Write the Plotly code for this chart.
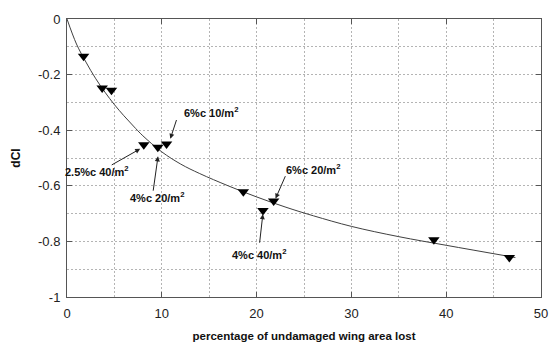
import plotly.graph_objects as go

# Measured loss in lift coefficient for each damage case
pct_area_lost = [1.75, 3.71, 4.69, 8.1, 9.58, 10.5, 18.6, 20.67, 21.8, 38.7, 46.66]
dcl_measured = [-0.134, -0.248, -0.256, -0.452, -0.461, -0.45, -0.621, -0.689, -0.655, -0.794, -0.858]

# Trend line through the measurements
trend_x = [0, 1, 2, 3, 4, 5, 6, 7, 8, 10, 12, 14, 17, 20, 23, 26, 30, 35, 40, 47.3]
trend_y = [0, -0.09, -0.155, -0.213, -0.263, -0.308, -0.348, -0.385, -0.42, -0.478, -0.522,
           -0.556, -0.600, -0.640, -0.676, -0.708, -0.746, -0.783, -0.814, -0.858]

# Damage case labels
case_labels = ["6%c 10/m<sup>2</sup>", "2.5%c 40/m<sup>2</sup>", "4%c 20/m<sup>2</sup>",
               "6%c 20/m<sup>2</sup>", "4%c 40/m<sup>2</sup>"]

# Label placement: text centre, arrow tail and arrow head (data units)
label_pos = [(15.2, -0.336), (3.2, -0.547), (9.5, -0.64), (26.0, -0.538), (20.2, -0.847)]
arrow_tail = [(11.6, -0.358), (4.56, -0.528), (9.07, -0.623), (23.1, -0.56), (20.3, -0.81)]
arrow_head = [(10.9, -0.431), (7.72, -0.467), (9.6, -0.494), (22.0, -0.646), (20.66, -0.702)]

x_ticks = [0, 10, 20, 30, 40, 50]
y_ticks = [0, -0.2, -0.4, -0.6, -0.8, -1]

FONT = "Liberation Sans, Arial, sans-serif"
GRID = "#b4b4b4"
GRID_DASH = "2px,2px"

fig = go.Figure()
fig.add_trace(go.Scatter(
    x=trend_x, y=trend_y, mode="lines",
    line=dict(color="#404040", width=1, shape="spline", smoothing=1.0),
    hoverinfo="skip", showlegend=False,
))
fig.add_trace(go.Scatter(
    x=pct_area_lost, y=dcl_measured, mode="markers",
    marker=dict(symbol="triangle-down", size=10, color="black"),
    showlegend=False,
))

annotations = []
for text, (tx, ty), (ax0, ay0), (hx, hy) in zip(case_labels, label_pos, arrow_tail, arrow_head):
    annotations.append(dict(
        x=hx, y=hy, ax=ax0, ay=ay0, xref="x", yref="y", axref="x", ayref="y",
        text="", showarrow=True, arrowhead=2, arrowsize=1, arrowwidth=1,
        arrowcolor="#222", standoff=0,
    ))
    annotations.append(dict(
        x=tx, y=ty, xref="x", yref="y", text="<b>%s</b>" % text, showarrow=False,
        font=dict(family=FONT, size=11, color="#111"),
        xanchor="center", yanchor="middle",
    ))

axis_common = dict(
    showline=True, linecolor="#555", linewidth=1, mirror="ticks",
    ticks="inside", ticklen=5, tickcolor="#555", zeroline=False,
    showgrid=True, gridcolor=GRID, griddash=GRID_DASH, gridwidth=1,
    tickfont=dict(family=FONT, size=13, color="#222"),
)

fig.update_xaxes(
    range=[0, 50], tickvals=x_ticks, ticktext=[str(v) for v in x_ticks],
    minor=dict(dtick=5, showgrid=True, gridcolor=GRID, griddash=GRID_DASH, gridwidth=1),
    title=dict(text="<b>percentage of undamaged wing area lost</b>",
               font=dict(family=FONT, size=11.5, color="#111"), standoff=12),
    ticklabelstandoff=4,
    **axis_common,
)
fig.update_yaxes(
    range=[-1, 0], tickvals=y_ticks, ticktext=["0", "-0.2", "-0.4", "-0.6", "-0.8", "-1"],
    minor=dict(dtick=0.1, showgrid=True, gridcolor=GRID, griddash=GRID_DASH, gridwidth=1),
    title=dict(text="<b>dCl</b>", font=dict(family=FONT, size=12, color="#111"), standoff=14),
    ticklabelstandoff=3,
    **axis_common,
)

fig.update_layout(
    width=560, height=353,
    margin=dict(l=67, r=17, t=12, b=47),
    paper_bgcolor="white", plot_bgcolor="white",
    annotations=annotations,
)

fig.write_html("out.html")
